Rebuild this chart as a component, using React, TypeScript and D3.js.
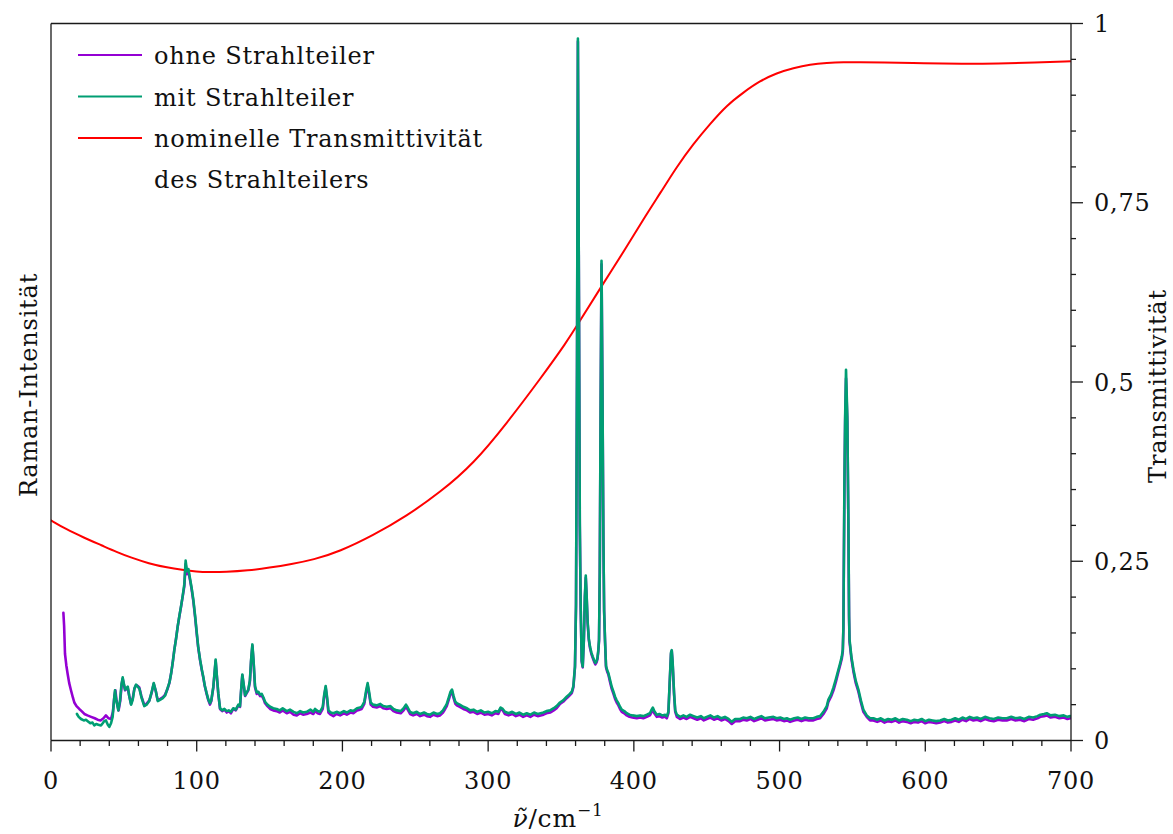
import React from 'react';
import * as d3 from 'd3';

// Raman spectrum without beam splitter: [wavenumber / cm^-1, intensity (a.u., 0..1000)]
const ohneStrahlteiler: [number, number][] = [
  [8.5,178],[9,160],[9.6,121],[10.5,105],[11.4,93],[12.5,80],[13.7,70],[15,60],[16,53],[17.5,48],[19.4,44],[21,41],[22.9,37],[25,35],[27.5,33],[30,31],[32,29],[34,28],[36,31],[37.7,35],[39.5,31],[41.2,30],[42.5,40],[43.5,62],[44.2,70],[45,55],[46.4,42],[47.5,55],[48.5,78],[49.2,86],[50,78],[50.8,70],[51.7,72],[52.6,74],[53.7,62],[54.9,51],[56,58],[57.2,72],[58.3,77],[59.5,76],[60.6,74],[62,62],[64.1,49],[65.5,51],[67.5,56],[69,66],[70.5,79],[71.8,70],[73.2,56],[75,58],[76.6,60],[78.3,64],[80,72],[81.2,80],[82.4,93],[83.5,108],[84.6,126],[85.8,142],[86.9,158],[88,172],[89.2,186],[90.3,200],[91.5,215],[92.4,246],[93.3,232],[94.3,236],[95.4,224],[96.5,211],[97.7,194],[99,170],[100,149],[101,130],[102.3,112],[103.5,98],[104.5,88],[105.5,76],[106.8,65],[108,56],[109.1,50],[110,55],[111.4,74],[112.3,95],[113,111],[113.8,90],[114.8,65],[116,44],[117.5,41],[119,43],[120.6,39],[122,41],[123.5,38],[125.1,44],[126.8,42],[128.6,49],[129.7,47],[130.5,70],[131.3,91],[132.2,78],[133.2,62],[134.3,66],[135.4,70],[136.5,82],[137.3,110],[138.2,132],[139,110],[140,74],[141.2,65],[142.3,66],[143.5,62],[144.6,63],[145.8,58],[146.9,52],[148.5,48],[150.4,44],[152.5,42],[154.9,41],[157,39],[159,42],[161.8,38],[164,40],[166.5,36],[168.7,35],[171,38],[173,36],[175.5,37],[178,39],[180,37],[181.2,41],[183,38],[184.6,37],[186.5,44],[187.5,62],[188.5,74],[189.5,57],[190.4,39],[192,36],[193.8,34],[196,37],[198.4,35],[201,38],[203,36],[205.5,39],[207.5,38],[210,42],[212,43],[213.2,44],[215,51],[216.3,67],[217.3,77],[218.3,65],[219.4,50],[221,47],[223.5,46],[226,48],[228,45],[230.4,44],[233,45],[235,41],[237.3,39],[240,38],[242,42],[243.6,47],[244.8,43],[246.4,37],[248.5,35],[251,37],[253.3,34],[256,36],[258,34],[260.1,33],[262.5,36],[265,34],[267,35],[269,39],[270.5,44],[271.6,48],[273,57],[274.2,65],[275.2,69],[276.3,59],[277.5,51],[278.5,49],[280.5,47],[283,44],[285.5,42],[287.6,39],[290,40],[292.5,37],[295,39],[297.5,36],[300,37],[302.5,35],[305,38],[307,37],[308.5,44],[310,42],[311.5,37],[314,35],[316.5,37],[319,34],[321.5,36],[324,33],[326.5,35],[329,33],[331.5,36],[334,34],[336,35],[338,36],[340,38],[342.5,39],[345,42],[347,45],[349.3,51],[351.5,54],[353.9,59],[355.5,62],[357.4,66],[358.5,74],[359.6,102],[360.3,186],[361,520],[361.6,975],[362.3,620],[362.9,300],[363.5,186],[364.2,110],[364.9,102],[365.7,140],[366.4,200],[367,227],[367.6,200],[368.3,163],[369.1,140],[369.9,129],[370.8,121],[371.8,115],[372.7,110],[373.6,106],[374.4,109],[375,113],[375.6,124],[376.1,139],[376.6,230],[377.2,460],[377.8,664],[378.4,500],[379.1,279],[379.6,180],[380.2,139],[380.9,102],[381.7,96],[382.5,92],[383.6,82],[384.8,72],[386,65],[387.1,58],[388.2,53],[389.4,49],[390.5,44],[391.7,40],[393.4,38],[395.1,35],[397,33],[399,32],[402,31],[404.3,32],[406.5,31],[408.9,33],[411,35],[412.2,40],[413,43],[414,38],[415.7,33],[417.5,34],[419.5,32],[421.4,33],[422.6,31],[423.7,38],[424.6,80],[425.5,121],[426,125],[426.6,108],[427.6,64],[428.4,40],[429.5,33],[431.7,30],[434,32],[436.2,30],[438.6,33],[441,31],[443.5,29],[446,31],[448,28],[450,30],[452.5,32],[455,29],[457.5,31],[460,28],[462.5,30],[465,27],[467.2,23],[469.5,27],[472.9,27],[475,29],[477.5,28],[480,30],[482.5,27],[485,29],[487.5,31],[490,28],[492.5,29],[495.8,30],[498,28],[500.5,29],[503,27],[505,28],[507.2,26],[510,28],[512.5,29],[515,27],[517.5,29],[520,28],[523.2,28],[525.5,30],[527.8,31],[530.1,37],[532.4,45],[533.5,54],[535.3,61],[537,70],[538.7,82],[540.4,96],[541.6,105],[542.7,114],[543.4,124],[543.8,156],[544.5,350],[545,445],[545.6,505],[546.5,445],[547.2,305],[547.7,170],[548,138],[549.3,114],[550.7,96],[552.3,80],[554.1,68],[555.8,53],[557.5,40],[559.8,33],[562.1,28],[564.4,28],[567,26],[569.5,28],[572,25],[574.5,27],[577,26],[579.5,28],[582,25],[584.5,27],[587.3,26],[590,24],[592.5,26],[595,25],[597.5,27],[600,24],[602.5,26],[605,25],[607.5,24],[610.2,25],[613,27],[615.5,25],[618,26],[620.5,28],[623,26],[625.5,29],[628,27],[630.5,30],[633,28],[635.5,29],[638,27],[641,30],[644,28],[647,27],[650,29],[653,28],[655.9,28],[659,30],[662,28],[665,29],[668,27],[671,30],[674,29],[677,31],[679,33],[681.5,34],[683.4,35],[686,32],[689,33],[692,31],[695,32],[697.5,30],[699.5,31],
];

// Raman spectrum with beam splitter
const mitStrahlteiler: [number, number][] = [
  [17.8,37],[19,33],[20.6,30],[22.5,28],[24,29],[25.2,27],[27,24],[28.5,25],[29.7,21],[31,23],[32.5,22],[34.3,21],[35.5,24],[36.5,27],[37.7,28],[39,22],[40,19],[41.2,24],[42.3,33],[43.2,55],[43.9,70],[44.8,56],[46.2,42],[47.4,56],[48.4,79],[49.2,88],[50,79],[50.9,71],[51.8,73],[52.7,75],[53.8,61],[55,50],[56.1,57],[57.3,73],[58.4,78],[59.6,75],[60.7,72],[62.1,60],[64,48],[65.6,50],[67.4,55],[69,67],[70.5,80],[71.9,69],[73.3,55],[75.1,57],[76.7,59],[78.4,63],[80,73],[81.3,81],[82.5,94],[83.6,110],[84.7,127],[85.9,143],[87,160],[88.1,174],[89.3,188],[90.4,202],[91.5,218],[92.4,251],[93.3,236],[94.3,239],[95.4,226],[96.5,213],[97.7,196],[99,172],[100,151],[101,131],[102.3,113],[103.5,99],[104.5,89],[105.5,77],[106.8,66],[108,57],[109.1,52],[110,56],[111.4,75],[112.3,96],[113,113],[113.8,91],[114.8,66],[116,45],[117.5,42],[119,44],[120.6,41],[122,42],[123.5,40],[125.1,45],[126.8,43],[128.6,50],[129.7,48],[130.5,71],[131.3,92],[132.2,79],[133.2,63],[134.3,67],[135.4,71],[136.5,84],[137.3,112],[138.2,134],[139,112],[140,76],[141.2,67],[142.3,68],[143.5,64],[144.6,65],[145.8,60],[146.9,54],[148.5,50],[150.4,47],[152.5,45],[154.9,44],[157,42],[159,45],[161.8,41],[164,43],[166.5,40],[168.7,38],[171,41],[173,39],[175.5,40],[178,43],[180,40],[181.2,44],[183,41],[184.6,40],[186.5,47],[187.5,64],[188.5,76],[189.5,60],[190.4,42],[192,39],[193.8,38],[196,40],[198.4,38],[201,41],[203,39],[205.5,42],[207.5,41],[210,45],[212,46],[213.2,47],[215,54],[216.3,70],[217.3,80],[218.3,68],[219.4,53],[221,50],[223.5,49],[226,51],[228,48],[230.4,47],[233,48],[235,44],[237.3,42],[240,41],[242,45],[243.6,50],[244.8,46],[246.4,40],[248.5,38],[251,40],[253.3,37],[256,39],[258,37],[260.1,36],[262.5,39],[265,37],[267,38],[269,42],[270.5,47],[271.6,51],[273,60],[274.2,68],[275.2,71],[276.3,62],[277.5,54],[278.5,52],[280.5,50],[283,47],[285.5,45],[287.6,42],[290,43],[292.5,40],[295,42],[297.5,39],[300,40],[302.5,38],[305,41],[307,40],[308.5,46],[310,44],[311.5,40],[314,38],[316.5,40],[319,37],[321.5,39],[324,36],[326.5,38],[329,36],[331.5,39],[334,37],[336,38],[338,39],[340,41],[342.5,42],[345,45],[347,48],[349.3,53],[351.5,56],[353.9,61],[355.5,64],[357.4,68],[358.5,76],[359.6,104],[360.3,190],[361,530],[361.6,979],[362.3,630],[362.9,305],[363.5,188],[364.2,112],[364.9,103],[365.7,142],[366.4,202],[367,230],[367.6,202],[368.3,165],[369.1,142],[369.9,131],[370.8,123],[371.8,117],[372.7,112],[373.6,108],[374.4,111],[375,115],[375.6,126],[376.1,141],[376.6,235],[377.2,470],[377.8,669],[378.4,505],[379.1,282],[379.6,182],[380.2,141],[380.9,104],[381.7,98],[382.5,94],[383.6,85],[384.8,75],[386,68],[387.1,61],[388.2,56],[389.4,52],[390.5,47],[391.7,43],[393.4,41],[395.1,38],[397,36],[399,35],[402,34],[404.3,35],[406.5,34],[408.9,36],[411,38],[412.2,43],[413,46],[414,41],[415.7,36],[417.5,37],[419.5,35],[421.4,36],[422.6,34],[423.7,40],[424.6,82],[425.5,123],[426,126],[426.6,110],[427.6,66],[428.4,42],[429.5,36],[431.7,33],[434,35],[436.2,33],[438.6,36],[441,34],[443.5,32],[446,34],[448,31],[450,33],[452.5,35],[455,32],[457.5,34],[460,31],[462.5,33],[465,30],[467.2,26],[469.5,30],[472.9,30],[475,32],[477.5,31],[480,33],[482.5,30],[485,32],[487.5,34],[490,31],[492.5,32],[495.8,33],[498,31],[500.5,32],[503,30],[505,31],[507.2,29],[510,31],[512.5,32],[515,30],[517.5,32],[520,31],[523.2,31],[525.5,33],[527.8,34],[530.1,40],[532.4,48],[533.5,57],[535.3,64],[537,74],[538.7,86],[540.4,99],[541.6,108],[542.7,117],[543.4,127],[543.8,158],[544.5,358],[545,452],[545.6,517],[546.5,452],[547.2,312],[547.7,174],[548,141],[549.3,117],[550.7,99],[552.3,83],[554.1,71],[555.8,56],[557.5,43],[559.8,35],[562.1,31],[564.4,31],[567,29],[569.5,31],[572,28],[574.5,30],[577,29],[579.5,31],[582,28],[584.5,30],[587.3,29],[590,27],[592.5,29],[595,28],[597.5,30],[600,27],[602.5,29],[605,28],[607.5,27],[610.2,28],[613,30],[615.5,28],[618,29],[620.5,31],[623,29],[625.5,32],[628,30],[630.5,33],[633,31],[635.5,32],[638,30],[641,33],[644,31],[647,30],[650,32],[653,31],[655.9,31],[659,33],[662,31],[665,32],[668,30],[671,33],[674,32],[677,34],[679,36],[681.5,37],[683.4,38],[686,35],[689,36],[692,34],[695,35],[697.5,33],[699.5,34],
];

// Nominal transmittance of the beam splitter
const transmittivitaet: [number, number][] = [
  [0,0.307],[10,0.295],[22.5,0.283],[35,0.272],[45,0.263],[55,0.255],[67,0.247],[80,0.241],[90,0.238],[100,0.2355],[108,0.2347],[120,0.235],[135,0.237],[150,0.241],[165,0.246],[180,0.252],[198,0.2636],[221,0.286],[244,0.313],[267,0.346],[290,0.386],[313,0.443],[336,0.505],[354,0.556],[362,0.582],[377.3,0.632],[395,0.688],[408.8,0.7345],[418,0.763],[429.4,0.80],[440.8,0.832],[452.3,0.86],[463.8,0.886],[475.2,0.904],[486.6,0.92],[498,0.931],[509.5,0.938],[521,0.943],[532.4,0.945],[544,0.946],[555,0.946],[569,0.9456],[600,0.9445],[625,0.9435],[650,0.944],[675,0.9455],[700,0.9475],
];

const xTickValues = [0, 100, 200, 300, 400, 500, 600, 700];
const xTickLabels = ['0', '100', '200', '300', '400', '500', '600', '700'];
const yTickValues = [0, 0.25, 0.5, 0.75, 1];
const yTickLabels = ['0', '0,25', '0,5', '0,75', '1'];

const legendLabels = ['ohne Strahlteiler', 'mit Strahlteiler', 'nominelle Transmittivität'];
const legendSecondLine = 'des Strahlteilers';

const COLORS = { ohne: '#9400D3', mit: '#009E73', trans: '#FF0000', axis: '#1a1a1a' };
const FONT = '"DejaVu Serif", serif';

const W = 1173;
const H = 834;
const left = 51;
const right = 1071;
const top = 23.5;
const bottom = 740.5;

export default function App() {
  const x = d3.scaleLinear().domain([0, 700]).range([left, right]);
  const yI = d3.scaleLinear().domain([0, 1000]).range([bottom, top]);
  const yT = d3.scaleLinear().domain([0, 1]).range([bottom, top]);

  const spectrum = d3
    .line<[number, number]>()
    .x((d) => x(d[0]))
    .y((d) => yI(d[1]))
    .curve(d3.curveLinear);
  const trans = d3
    .line<[number, number]>()
    .x((d) => x(d[0]))
    .y((d) => yT(d[1]))
    .curve(d3.curveBasis);

  const xMinor = x.ticks(28).filter((t) => t % 100 !== 0);
  const yMinor = yT.ticks(20).filter((t) => Math.abs(t * 4 - Math.round(t * 4)) > 1e-6);

  const legendY = [55, 96.5, 138];
  const legendTextY = [64, 106, 147];
  const textStyle = { letterSpacing: '0.8px' };

  return (
    <svg
      width={W}
      height={H}
      viewBox={`0 0 ${W} ${H}`}
      style={{ position: 'absolute', left: 0, top: 0, background: '#fff' }}
      fontFamily={FONT}
    >
      <defs>
        <clipPath id="plotArea">
          <rect x={left} y={top} width={right - left} height={bottom - top} />
        </clipPath>
      </defs>

      <g clipPath="url(#plotArea)" fill="none" strokeLinejoin="round" strokeLinecap="round">
        <path d={trans(transmittivitaet) ?? ''} stroke={COLORS.trans} strokeWidth={2} />
        <path d={spectrum(ohneStrahlteiler) ?? ''} stroke={COLORS.ohne} strokeWidth={2.6} />
        <path d={spectrum(mitStrahlteiler) ?? ''} stroke={COLORS.mit} strokeWidth={2.6} />
      </g>

      {/* frame and axes */}
      <g stroke={COLORS.axis} strokeWidth={1.3} fill="none">
        <line x1={left} x2={right} y1={top} y2={top} />
        <line x1={left} x2={left} y1={top} y2={bottom} />
        <line x1={left} x2={right} y1={bottom} y2={bottom} />
        <line x1={right} x2={right} y1={top} y2={bottom} />
        {xTickValues.map((t) => (
          <line key={`xt${t}`} x1={x(t)} x2={x(t)} y1={bottom} y2={bottom + 11} />
        ))}
        {xMinor.map((t) => (
          <line key={`xm${t}`} x1={x(t)} x2={x(t)} y1={bottom} y2={bottom + 5.5} />
        ))}
        {yTickValues.map((t) => (
          <line key={`yt${t}`} x1={right} x2={right + 12} y1={yT(t)} y2={yT(t)} />
        ))}
        {yMinor.map((t) => (
          <line key={`ym${t}`} x1={right} x2={right + 5} y1={yT(t)} y2={yT(t)} />
        ))}
      </g>

      <g fontSize={24} fill="#111" style={textStyle}>
        {xTickValues.map((t, i) => (
          <text key={`xl${t}`} x={x(t)} y={789} textAnchor="middle">
            {xTickLabels[i]}
          </text>
        ))}
        {yTickValues.map((t, i) => (
          <text key={`yl${t}`} x={1094} y={yT(t)} dy="0.36em" textAnchor="start">
            {yTickLabels[i]}
          </text>
        ))}
        <text x={558} y={827} textAnchor="middle" fontSize={25}>
          <tspan fontStyle="italic">ν̃</tspan>
          <tspan>/cm</tspan>
          <tspan dy={-11} fontSize={17}>−1</tspan>
        </text>
        <text transform="translate(37,385) rotate(-90)" textAnchor="middle">
          Raman-Intensität
        </text>
        <text transform="translate(1166,386) rotate(-90)" textAnchor="middle">
          Transmittivität
        </text>
      </g>

      {/* legend */}
      <g fontSize={24} fill="#111" style={textStyle}>
        {legendLabels.map((label, i) => (
          <g key={label}>
            <line
              x1={78}
              x2={142}
              y1={legendY[i]}
              y2={legendY[i]}
              stroke={[COLORS.ohne, COLORS.mit, COLORS.trans][i]}
              strokeWidth={2}
            />
            <text x={154} y={legendTextY[i]}>
              {label}
            </text>
          </g>
        ))}
        <text x={154} y={188}>
          {legendSecondLine}
        </text>
      </g>
    </svg>
  );
}
